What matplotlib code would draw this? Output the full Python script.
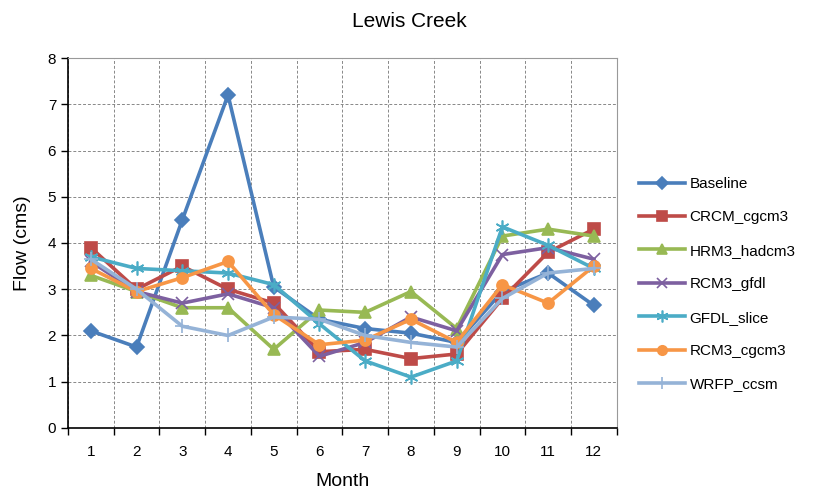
import matplotlib
matplotlib.use("Agg")
import matplotlib.pyplot as plt
import numpy as np

plt.rcParams['font.family'] = ['Liberation Sans', 'DejaVu Sans']

months = list(range(1, 13))

baseline    = [2.1, 1.75, 4.5, 7.2, 3.05, 2.35, 2.15, 2.05, 1.85, 2.95, 3.35, 2.65]
crcm_cgcm3  = [3.9, 3.0, 3.5, 3.0, 2.7, 1.65, 1.7, 1.5, 1.6, 2.8, 3.8, 4.3]
hrm3_hadcm3 = [3.3, 2.95, 2.6, 2.6, 1.7, 2.55, 2.5, 2.95, 2.15, 4.15, 4.3, 4.15]
rcm3_gfdl   = [3.6, 2.95, 2.7, 2.9, 2.6, 1.55, 1.85, 2.4, 2.1, 3.75, 3.9, 3.65]
gfdl_slice  = [3.7, 3.45, 3.4, 3.35, 3.1, 2.25, 1.45, 1.1, 1.45, 4.35, 3.95, 3.45]
rcm3_cgcm3  = [3.45, 2.95, 3.25, 3.6, 2.45, 1.8, 1.9, 2.35, 1.85, 3.1, 2.7, 3.5]
wrfp_ccsm   = [3.65, 3.0, 2.2, 2.0, 2.4, 2.35, 2.0, 1.85, 1.75, 2.8, 3.35, 3.45]

series = [
    ("Baseline",    baseline,    "#4A7EBB", "D", 7),
    ("CRCM_cgcm3",  crcm_cgcm3,  "#BE4B48", "s", 8),
    ("HRM3_hadcm3", hrm3_hadcm3, "#98B954", "^", 8),
    ("RCM3_gfdl",   rcm3_gfdl,   "#7D60A0", "x", 8),
    ("GFDL_slice",  gfdl_slice,  "#4BACC6", (6, 2, 0), 10),
    ("RCM3_cgcm3",  rcm3_cgcm3,  "#F79646", "o", 8),
    ("WRFP_ccsm",   wrfp_ccsm,   "#95B3D7", "+", 10),
]

fig = plt.figure(figsize=(8.19, 4.98), dpi=100)
ax = fig.add_axes([0.083, 0.1406, 0.670, 0.7429])

for name, vals, color, marker, ms in series:
    ax.plot(months, vals, color=color, linewidth=2.6, marker=marker,
            markersize=ms, markeredgewidth=1.2, markeredgecolor=color,
            markerfacecolor=color, label=name)

ax.set_xlim(0.5, 12.5)
ax.set_ylim(0, 8)
ax.set_yticks(range(0, 9))
ax.set_xticks(np.arange(0.5, 13, 1.0))
ax.set_xticklabels([])
ax.set_xticks(months, minor=True)
ax.set_xticklabels([str(m) for m in months], minor=True)
ax.tick_params(axis='x', which='minor', length=0, labelsize=11, pad=12)
ax.tick_params(axis='x', which='major', length=5, direction='out', width=1)
ax.tick_params(axis='y', length=5, direction='out', labelsize=11, width=1)

ax.grid(True, which='major', color='#888888', linestyle=(0, (3, 2)), linewidth=0.7)
ax.set_axisbelow(True)
for side in ('top', 'right'):
    ax.spines[side].set_color('#999999')
    ax.spines[side].set_linewidth(0.8)
for side in ('left', 'bottom'):
    ax.spines[side].set_color('black')
    ax.spines[side].set_linewidth(1.2)

ax.set_xlabel("Month", fontsize=14, labelpad=10)
ax.set_ylabel("Flow (cms)", fontsize=14, labelpad=12)
fig.suptitle("Lewis Creek", fontsize=15, y=0.975)

ax.legend(loc='upper left', bbox_to_anchor=(1.03, 0.695), frameon=False,
          fontsize=11, handlelength=3.0, handletextpad=0.3, labelspacing=1.27,
          borderaxespad=0, markerscale=0.85)

fig.savefig("out.png", dpi=100)
